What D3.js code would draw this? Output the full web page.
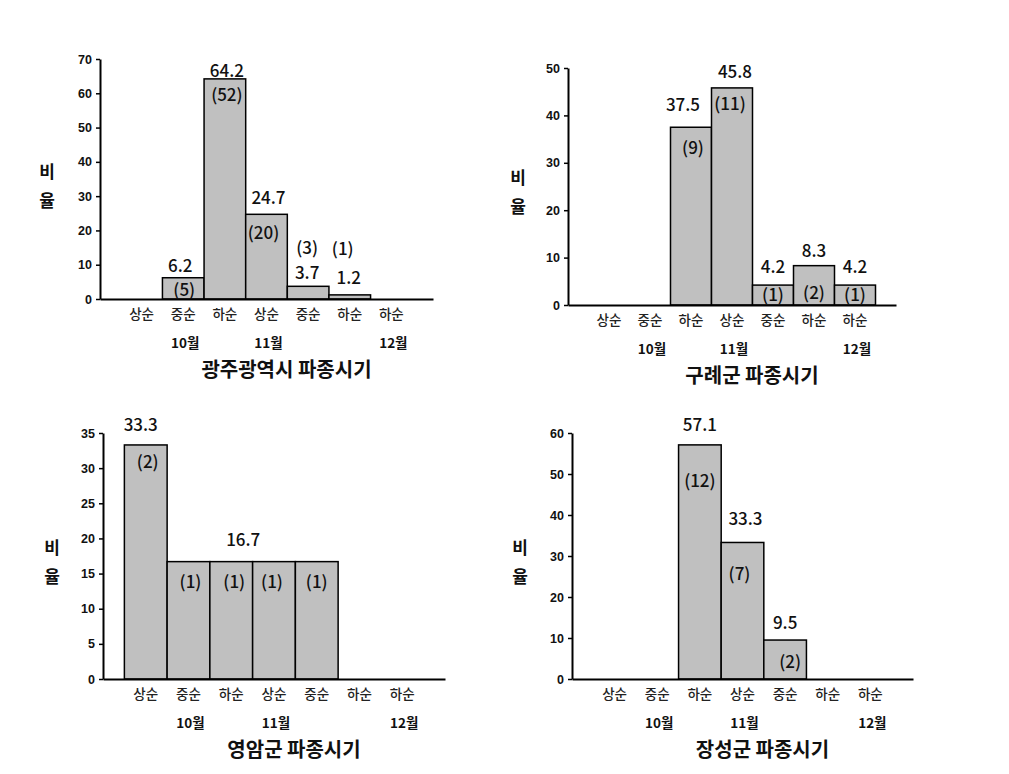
<!DOCTYPE html>
<html>
<head>
<meta charset="utf-8">
<script src="https://cdn.jsdelivr.net/npm/d3@7"></script>
<style>
  body { margin: 0; background: #fff; }
  text { font-family: "Noto Sans CJK KR", "Noto Sans", sans-serif; }
</style>
</head>
<body>
<div id="chart"></div>
<script>
// categories (순) and month labels shared by all four panels
const categories = ["상순", "중순", "하순", "상순", "중순", "하순", "하순"];
const months = ["10월", "11월", "12월"];
const monthSlots = [1, 3, 6];

// 비율 (%) and 건수 per panel
const gwangjuValues = [0, 6.2, 64.2, 24.7, 3.7, 1.2, 0];
const gwangjuCounts = [null, 5, 52, 20, 3, 1, null];
const gwangjuTicks = [0, 10, 20, 30, 40, 50, 60, 70];

const guryeValues = [0, 0, 37.5, 45.8, 4.2, 8.3, 4.2];
const guryeCounts = [null, null, 9, 11, 1, 2, 1];
const guryeTicks = [0, 10, 20, 30, 40, 50];

const yeongamValues = [33.3, 16.7, 16.7, 16.7, 16.7, 0, 0];
const yeongamCounts = [2, 1, 1, 1, 1, null, null];
const yeongamTicks = [0, 5, 10, 15, 20, 25, 30, 35];

const jangseongValues = [0, 0, 57.1, 33.3, 9.5, 0, 0];
const jangseongCounts = [null, null, 12, 7, 2, null, null];
const jangseongTicks = [0, 10, 20, 30, 40, 50, 60];

const svg = d3.select("#chart").append("svg")
  .attr("width", 1009)
  .attr("height", 774);

// layout of each panel; label offsets are [dx, dy] from the bar's top centre (null = no label)
const panels = [
  {
    title: "광주광역시 파종시기", values: gwangjuValues, counts: gwangjuCounts, ticks: gwangjuTicks,
    x0: 100, x1: 433, y0: 299, yTop: 59, ylx: 47, yly: 172,
    valueOff: [null, [-3, -12], [2, -8], [2, -16], [-1, -13], [-1, -17], null],
    countOff: [null, [1, 12], [2, 16], [-3, 19], [-1, -38], [-7, -46], null]
  },
  {
    title: "구례군 파종시기", values: guryeValues, counts: guryeCounts, ticks: guryeTicks,
    x0: 568, x1: 896, y0: 305, yTop: 68, ylx: 518, yly: 178,
    valueOff: [null, null, [-8, -22], [3, -16], [0, -18], [0, -15], [0, -18]],
    countOff: [null, null, [2, 21], [-2, 16], [0, 10], [0, 27], [0, 10]]
  },
  {
    title: "영암군 파종시기", values: yeongamValues, counts: yeongamCounts, ticks: yeongamTicks,
    x0: 103, x1: 445, y0: 679, yTop: 433, ylx: 52, yly: 548,
    valueOff: [[-5, -20], null, [12, -22], null, null, null, null],
    countOff: [[2, 17], [2, 20], [3, 20], [-2, 20], [0, 20], null, null]
  },
  {
    title: "장성군 파종시기", values: jangseongValues, counts: jangseongCounts, ticks: jangseongTicks,
    x0: 572, x1: 913, y0: 679, yTop: 433, ylx: 520, yly: 548,
    valueOff: [null, null, [0, -20], [3, -23], [0, -17], null, null],
    countOff: [null, null, [0, 36], [-3, 32], [5, 22], null, null]
  }
];

function drawPanel(p) {
  const x = d3.scaleBand()
    .domain(d3.range(categories.length))
    .range([p.x0, p.x1])
    .paddingInner(0)
    .paddingOuter(0.5);

  const y = d3.scaleLinear()
    .domain([0, d3.max(p.ticks)])
    .range([p.y0, p.yTop]);

  const g = svg.append("g");

  const rows = p.values.map((v, i) => ({ v, i, c: p.counts[i] }));

  // bars
  g.selectAll("rect")
    .data(rows.filter(d => d.v > 0))
    .join("rect")
    .attr("x", d => x(d.i))
    .attr("y", d => y(d.v))
    .attr("width", x.bandwidth())
    .attr("height", d => y(0) - y(d.v))
    .attr("fill", "#c0c0c0")
    .attr("stroke", "#000")
    .attr("stroke-width", 1.5);

  // y axis
  const yAxis = g.append("g")
    .attr("transform", `translate(${p.x0},0)`)
    .call(d3.axisLeft(y).tickValues(p.ticks).tickSize(4).tickSizeOuter(0).tickPadding(4));
  yAxis.select(".domain").attr("stroke-width", 2);
  yAxis.selectAll(".tick line").attr("stroke-width", 1.5);
  yAxis.selectAll(".tick text")
    .style("font-family", "'Liberation Sans', Arial, sans-serif")
    .style("font-weight", "bold")
    .style("font-size", "12.5px")
    .attr("fill", "#111");

  // x axis with 순 labels
  const xAxis = g.append("g")
    .attr("transform", `translate(0,${p.y0})`)
    .call(d3.axisBottom(x).tickSize(0).tickPadding(10).tickFormat(i => categories[i]));
  xAxis.select(".domain").attr("stroke-width", 2);
  xAxis.selectAll(".tick text")
    .style("font-size", "13.5px")
    .style("font-weight", "500")
    .attr("fill", "#222");

  // month labels
  g.selectAll(".month")
    .data(months)
    .join("text")
    .attr("class", "month")
    .attr("x", (m, k) => x(monthSlots[k]) + x.bandwidth() / 2 + 2)
    .attr("y", p.y0 + 44)
    .attr("dy", "0.35em")
    .attr("text-anchor", "middle")
    .style("font-size", "13.5px")
    .style("font-weight", "bold")
    .attr("fill", "#111")
    .text(m => m);

  // value labels
  g.selectAll(".val")
    .data(rows.filter(d => p.valueOff[d.i]))
    .join("text")
    .attr("class", "val")
    .attr("x", d => x(d.i) + x.bandwidth() / 2 + p.valueOff[d.i][0])
    .attr("y", d => y(d.v) + p.valueOff[d.i][1])
    .attr("dy", "0.35em")
    .attr("text-anchor", "middle")
    .style("font-size", "17px")
    .style("font-weight", "500")
    .attr("fill", "#111")
    .text(d => d.v.toFixed(1));

  // count labels
  g.selectAll(".cnt")
    .data(rows.filter(d => d.c != null && p.countOff[d.i]))
    .join("text")
    .attr("class", "cnt")
    .attr("x", d => x(d.i) + x.bandwidth() / 2 + p.countOff[d.i][0])
    .attr("y", d => y(d.v) + p.countOff[d.i][1])
    .attr("dy", "0.35em")
    .attr("text-anchor", "middle")
    .style("font-size", "17px")
    .style("font-weight", "500")
    .attr("fill", "#111")
    .text(d => `(${d.c})`);

  // y label, written vertically
  g.selectAll(".ylab")
    .data(["비", "율"])
    .join("text")
    .attr("class", "ylab")
    .attr("x", p.ylx)
    .attr("y", (t, k) => p.yly + k * 29)
    .attr("dy", "0.35em")
    .attr("text-anchor", "middle")
    .style("font-size", "17px")
    .style("font-weight", "bold")
    .attr("fill", "#111")
    .text(t => t);

  // title
  g.append("text")
    .attr("x", (p.x0 + p.x1) / 2 + 20)
    .attr("y", p.y0 + 71)
    .attr("dy", "0.35em")
    .attr("text-anchor", "middle")
    .style("font-size", "20px")
    .style("font-weight", "bold")
    .attr("fill", "#111")
    .text(p.title);
}

panels.forEach(drawPanel);
</script>
</body>
</html>
